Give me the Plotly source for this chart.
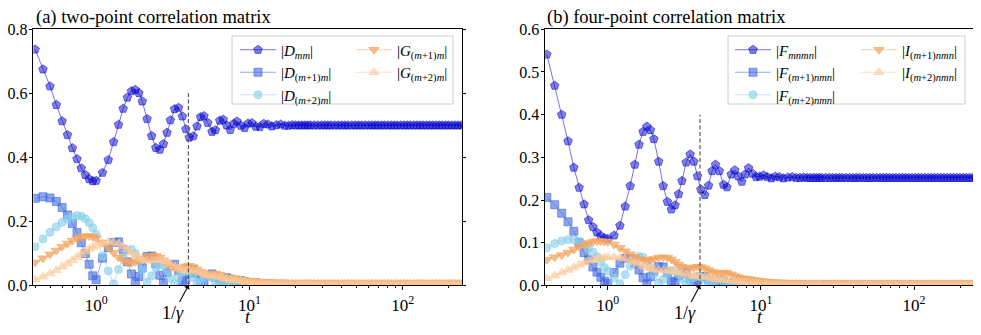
import numpy as np
import plotly.graph_objects as go

# the page body has an 8px margin, so the figure is drawn 8px in from the window corner
PAGE_OFF = 8
W, H = 981 - PAGE_OFF, 335 - PAGE_OFF
SERIF = "Liberation Serif"

# time grid (same grid in both panels)
t_early = [0.40, 0.45, 0.50, 0.55, 0.60, 0.65, 0.70, 0.75, 0.80, 0.85, 0.90, 0.95, 1.00,
           1.10, 1.20, 1.30, 1.40, 1.50, 1.60, 1.70, 1.80, 1.90, 2.00,
           2.15, 2.30, 2.45, 2.60, 2.75, 2.90, 3.05, 3.25, 3.45, 3.65, 3.85, 4.05,
           4.30, 4.55, 4.80, 5.05, 5.35, 5.70, 6.00, 6.40, 6.75, 7.10, 7.50, 7.90,
           8.30, 8.80, 9.30, 9.80, 10.4, 11.0, 11.7, 12.4, 13.2, 14.0, 15.0, 16.0,
           17.0, 18.0, 19.0, 20.0]
t_tail = [21, 22, 23, 24, 25, 26.5, 28, 29.5, 31, 32.5, 34, 36, 38, 40, 42, 44, 46.5, 49,
          51.5, 54, 57, 60, 63, 66, 69, 72.5, 76, 80, 84, 88, 92, 97, 102, 107, 112, 118,
          124, 130, 136, 143, 150, 157, 165, 173, 181, 190, 199, 209, 219, 230, 241, 252]

inv_gamma = 4.0

# (a) two-point correlation matrix
d_mm = [0.737, 0.675, 0.622, 0.564, 0.513, 0.470, 0.429, 0.395, 0.366, 0.345, 0.332, 0.326, 0.327,
        0.352, 0.392, 0.448, 0.502, 0.552, 0.587, 0.607, 0.611, 0.601, 0.575,
        0.520, 0.467, 0.430, 0.424, 0.442, 0.477, 0.516, 0.551, 0.555, 0.528, 0.488, 0.462,
        0.466, 0.497, 0.526, 0.529, 0.508, 0.480, 0.485, 0.515, 0.518, 0.500, 0.486, 0.505,
        0.512, 0.499, 0.492, 0.506, 0.507, 0.496, 0.495, 0.505, 0.503, 0.497, 0.501, 0.503,
        0.499, 0.499, 0.501, 0.500]
d_m1m = [0.272, 0.277, 0.273, 0.262, 0.243, 0.220, 0.193, 0.165, 0.133, 0.100, 0.066, 0.030, 0.018,
         0.085, 0.118, 0.134, 0.136, 0.112, 0.074, 0.036, 0.010, 0.028, 0.055,
         0.090, 0.092, 0.068, 0.032, 0.008, 0.040, 0.062, 0.066, 0.046, 0.014, 0.018, 0.038,
         0.050, 0.038, 0.015, 0.010, 0.030, 0.036, 0.026, 0.008, 0.015, 0.024, 0.020, 0.008,
         0.008, 0.015, 0.012, 0.005, 0.007, 0.009, 0.005, 0.004, 0.005, 0.004, 0.004, 0.003,
         0.004, 0.003, 0.003, 0.003]
d_m2m = [0.121, 0.145, 0.166, 0.183, 0.197, 0.207, 0.214, 0.218, 0.216, 0.208, 0.196, 0.180, 0.160,
         0.092, 0.045, 0.005, 0.050, 0.088, 0.110, 0.113, 0.100, 0.078, 0.048,
         0.010, 0.030, 0.055, 0.066, 0.062, 0.045, 0.022, 0.005, 0.025, 0.040, 0.045, 0.040,
         0.025, 0.008, 0.012, 0.025, 0.030, 0.024, 0.012, 0.004, 0.012, 0.017, 0.015, 0.009,
         0.004, 0.008, 0.010, 0.007, 0.004, 0.005, 0.006, 0.004, 0.003, 0.004, 0.003, 0.003,
         0.003, 0.003, 0.003, 0.003]
g_m1m = [0.072, 0.085, 0.097, 0.109, 0.121, 0.131, 0.140, 0.147, 0.151, 0.154, 0.154, 0.152, 0.147,
         0.134, 0.118, 0.102, 0.088, 0.078, 0.072, 0.071, 0.074, 0.079, 0.084,
         0.090, 0.093, 0.092, 0.087, 0.078, 0.068, 0.060, 0.054, 0.053, 0.056, 0.060, 0.061,
         0.057, 0.050, 0.043, 0.038, 0.036, 0.037, 0.037, 0.033, 0.028, 0.024, 0.023, 0.023,
         0.021, 0.018, 0.016, 0.015, 0.014, 0.013, 0.012, 0.011, 0.010, 0.010, 0.009, 0.009,
         0.008, 0.008, 0.008, 0.007]
g_m2m = [0.018, 0.027, 0.037, 0.047, 0.058, 0.068, 0.078, 0.088, 0.097, 0.106, 0.114, 0.120, 0.125,
         0.132, 0.136, 0.135, 0.130, 0.122, 0.112, 0.102, 0.093, 0.086, 0.081,
         0.077, 0.077, 0.078, 0.079, 0.078, 0.074, 0.068, 0.060, 0.053, 0.048, 0.046, 0.046,
         0.046, 0.044, 0.040, 0.035, 0.031, 0.029, 0.028, 0.026, 0.023, 0.020, 0.018, 0.017,
         0.016, 0.014, 0.012, 0.011, 0.010, 0.009, 0.009, 0.008, 0.008, 0.007, 0.007, 0.007,
         0.006, 0.006, 0.006, 0.006]
# long-time levels (t > 20)
d_mm_inf, d_m1m_inf, d_m2m_inf, g_m1m_inf, g_m2m_inf = 0.500, 0.003, 0.003, 0.007, 0.006

# (b) four-point correlation matrix
f_mnmn = [0.541, 0.468, 0.400, 0.338, 0.276, 0.229, 0.190, 0.153, 0.137, 0.124, 0.116, 0.111, 0.109,
          0.117, 0.140, 0.185, 0.233, 0.283, 0.330, 0.360, 0.372, 0.364, 0.343,
          0.290, 0.233, 0.196, 0.178, 0.188, 0.214, 0.245, 0.288, 0.307, 0.290, 0.256, 0.225,
          0.212, 0.234, 0.268, 0.283, 0.268, 0.236, 0.230, 0.260, 0.270, 0.256, 0.243, 0.260,
          0.275, 0.262, 0.254, 0.255, 0.258, 0.254, 0.251, 0.255, 0.254, 0.251, 0.253, 0.254,
          0.252, 0.252, 0.253, 0.252]
f_m1nmn = [0.206, 0.189, 0.169, 0.149, 0.127, 0.100, 0.077, 0.060, 0.043, 0.031, 0.019, 0.010, 0.005,
           0.030, 0.052, 0.063, 0.063, 0.052, 0.036, 0.018, 0.004, 0.020, 0.034,
           0.044, 0.043, 0.030, 0.010, 0.008, 0.022, 0.030, 0.028, 0.016, 0.004, 0.012, 0.020,
           0.021, 0.013, 0.004, 0.008, 0.013, 0.011, 0.005, 0.004, 0.008, 0.008, 0.005, 0.002,
           0.004, 0.005, 0.004, 0.002, 0.002, 0.003, 0.002, 0.002, 0.002, 0.002, 0.002, 0.002,
           0.002, 0.002, 0.002, 0.002]
f_m2nmn = [0.088, 0.098, 0.104, 0.107, 0.107, 0.104, 0.096, 0.087, 0.078, 0.067, 0.055, 0.042, 0.034,
           0.018, 0.004, 0.025, 0.045, 0.060, 0.068, 0.066, 0.056, 0.042, 0.026,
           0.006, 0.014, 0.028, 0.035, 0.034, 0.026, 0.016, 0.004, 0.010, 0.018, 0.022, 0.020,
           0.014, 0.005, 0.005, 0.010, 0.013, 0.010, 0.005, 0.002, 0.005, 0.007, 0.006, 0.003,
           0.002, 0.003, 0.004, 0.003, 0.002, 0.002, 0.002, 0.002, 0.002, 0.002, 0.002, 0.002,
           0.002, 0.002, 0.002, 0.002]
i_m1nmn = [0.060, 0.066, 0.071, 0.077, 0.084, 0.090, 0.095, 0.099, 0.102, 0.104, 0.104, 0.103, 0.102,
           0.096, 0.088, 0.080, 0.073, 0.067, 0.062, 0.060, 0.059, 0.060, 0.062,
           0.065, 0.066, 0.065, 0.061, 0.055, 0.049, 0.044, 0.041, 0.040, 0.042, 0.044, 0.043,
           0.040, 0.036, 0.032, 0.029, 0.028, 0.030, 0.029, 0.026, 0.022, 0.019, 0.017, 0.016,
           0.015, 0.013, 0.012, 0.011, 0.010, 0.009, 0.008, 0.008, 0.007, 0.007, 0.006, 0.006,
           0.005, 0.005, 0.005, 0.005]
i_m2nmn = [0.016, 0.023, 0.030, 0.036, 0.042, 0.048, 0.053, 0.057, 0.060, 0.063, 0.064, 0.065, 0.066,
           0.066, 0.065, 0.062, 0.058, 0.054, 0.050, 0.046, 0.043, 0.040, 0.038,
           0.036, 0.035, 0.035, 0.034, 0.033, 0.031, 0.029, 0.026, 0.024, 0.022, 0.021, 0.021,
           0.020, 0.019, 0.017, 0.015, 0.014, 0.013, 0.013, 0.012, 0.010, 0.009, 0.008, 0.008,
           0.007, 0.006, 0.006, 0.005, 0.005, 0.004, 0.004, 0.004, 0.004, 0.004, 0.004, 0.004,
           0.004, 0.003, 0.003, 0.003]
f_mnmn_inf, f_m1nmn_inf, f_m2nmn_inf, i_m1nmn_inf, i_m2nmn_inf = 0.252, 0.002, 0.002, 0.005, 0.003

y_ticks_a = [0.0, 0.2, 0.4, 0.6, 0.8]
y_ticks_b = [0.0, 0.1, 0.2, 0.3, 0.4, 0.5, 0.6]
x_major = [1, 10, 100]
x_major_text = ["10<sup>0</sup>", "10<sup>1</sup>", "10<sup>2</sup>"]
x_minor = [0.4, 0.5, 0.6, 0.7, 0.8, 0.9, 2, 3, 4, 5, 6, 7, 8, 9,
           20, 30, 40, 50, 60, 70, 80, 90, 200]
vline_top = [0.6, 0.4]

t_all = t_early + t_tail

# marker styles: (symbol, size, rgb, fill alpha)
styles = [
    ("pentagon", 9, (0, 0, 205), 0.5),
    ("square", 8, (65, 105, 225), 0.6),
    ("circle", 8, (135, 206, 235), 0.6),
    ("triangle-down", 9, (244, 164, 96), 0.7),
    ("triangle-up", 9, (253, 200, 150), 0.6),
]

def rgba(c, a):
    return "rgba(%d,%d,%d,%.2f)" % (c[0], c[1], c[2], a)

fig = go.Figure()

def add_series(vals, inf, name, k, xa, ya, leg):
    sym, size, c, a = styles[k]
    y = vals + [inf] * len(t_tail)
    fig.add_trace(go.Scatter(
        x=t_all, y=y, mode="lines+markers", name=name, xaxis=xa, yaxis=ya, legend=leg,
        line=dict(color=rgba(c, 0.55), width=1),
        marker=dict(symbol=sym, size=size, color=rgba(c, a), line=dict(color=rgba(c, a), width=1))))

def sub(s):
    return s.replace("m", "<i>m</i>").replace("n", "<i>n</i>")

add_series(d_mm, d_mm_inf, "|<i>D</i><sub>" + sub("mm") + "</sub>|", 0, "x", "y", "legend")
add_series(d_m1m, d_m1m_inf, "|<i>D</i><sub>" + sub("(m+1)m") + "</sub>|", 1, "x", "y", "legend")
add_series(d_m2m, d_m2m_inf, "|<i>D</i><sub>" + sub("(m+2)m") + "</sub>|", 2, "x", "y", "legend")
add_series(g_m1m, g_m1m_inf, "|<i>G</i><sub>" + sub("(m+1)m") + "</sub>|", 3, "x", "y", "legend2")
add_series(g_m2m, g_m2m_inf, "|<i>G</i><sub>" + sub("(m+2)m") + "</sub>|", 4, "x", "y", "legend2")

add_series(f_mnmn, f_mnmn_inf, "|<i>F</i><sub>" + sub("mnmn") + "</sub>|", 0, "x2", "y2", "legend3")
add_series(f_m1nmn, f_m1nmn_inf, "|<i>F</i><sub>" + sub("(m+1)nmn") + "</sub>|", 1, "x2", "y2", "legend3")
add_series(f_m2nmn, f_m2nmn_inf, "|<i>F</i><sub>" + sub("(m+2)nmn") + "</sub>|", 2, "x2", "y2", "legend3")
add_series(i_m1nmn, i_m1nmn_inf, "|<i>I</i><sub>" + sub("(m+1)nmn") + "</sub>|", 3, "x2", "y2", "legend4")
add_series(i_m2nmn, i_m2nmn_inf, "|<i>I</i><sub>" + sub("(m+2)nmn") + "</sub>|", 4, "x2", "y2", "legend4")

# dashed marker of 1/gamma
for xa, ya, top in [("x", "y", vline_top[0]), ("x2", "y2", vline_top[1])]:
    fig.add_trace(go.Scatter(x=[inv_gamma, inv_gamma], y=[0, top], mode="lines", xaxis=xa, yaxis=ya,
                             line=dict(color="#555555", width=1.2, dash="4px,2.5px"),
                             showlegend=False, hoverinfo="skip"))

# screen pixel -> paper fraction
def px_x(p):
    return (p - PAGE_OFF) / W

def px_y(p):
    return 1 - (p - PAGE_OFF) / H

xdom_a = [px_x(33.3), px_x(461.7)]
xdom_b = [px_x(545), px_x(973)]
ydom = [px_y(285.4), px_y(29.3)]

font_tick = dict(family=SERIF, size=16, color="black")
xcommon = dict(type="log", range=[-0.41, 2.385], tickvals=x_major, ticktext=x_major_text,
               ticks="outside", ticklen=4, tickwidth=1, tickcolor="black",
               minor=dict(tickvals=x_minor, ticks="outside", ticklen=2, tickwidth=0.8, tickcolor="black"),
               showline=True, linecolor="black", linewidth=1, mirror=True, showgrid=False,
               zeroline=False, tickfont=dict(family=SERIF, size=17, color="black"))
ycommon = dict(ticks="outside", ticklen=3.5, tickwidth=1, tickcolor="black", showline=True,
               linecolor="black", linewidth=1, mirror="ticks", showgrid=False, zeroline=False,
               tickfont=font_tick, tickformat=".1f", domain=ydom, ticklabelstandoff=-2)

leg_common = dict(bgcolor="rgba(0,0,0,0)", borderwidth=0, font=dict(family=SERIF, size=15, color="black"),
                  xanchor="left", yanchor="top", orientation="v", itemwidth=36)

fig.update_layout(
    width=W, height=H, margin=dict(l=0, r=0, t=0, b=0, autoexpand=False),
    paper_bgcolor="white", plot_bgcolor="white",
    xaxis=dict(domain=xdom_a, anchor="y", **xcommon),
    yaxis=dict(anchor="x", range=[0, 0.8], tickvals=y_ticks_a, **ycommon),
    xaxis2=dict(domain=xdom_b, anchor="y2", **xcommon),
    yaxis2=dict(anchor="x2", range=[0, 0.6], tickvals=y_ticks_b, **ycommon),
    legend=dict(x=px_x(235), y=px_y(33.5), **leg_common),
    legend2=dict(x=px_x(351), y=px_y(33.5), **leg_common),
    legend3=dict(x=px_x(730), y=px_y(33.5), **leg_common),
    legend4=dict(x=px_x(856), y=px_y(33.5), **leg_common),
)

# legend frames
for x0, x1 in [(232, 453), (728, 965)]:
    fig.add_shape(type="rect", xref="paper", yref="paper", x0=px_x(x0), x1=px_x(x1),
                  y0=px_y(104), y1=px_y(36), line=dict(color="#cccccc", width=1),
                  fillcolor="rgba(255,255,255,0.8)", layer="above")

title_font = dict(family=SERIF, size=18.5, color="black")
fig.add_annotation(text="(a) two-point correlation matrix", xref="paper", yref="paper",
                   x=px_x(34), y=px_y(17), xanchor="left", yanchor="middle", showarrow=False, font=title_font)
fig.add_annotation(text="(b) four-point correlation matrix", xref="paper", yref="paper",
                   x=px_x(545), y=px_y(17), xanchor="left", yanchor="middle", showarrow=False, font=title_font)

for xa, ya, xc in [("x", "y", 248), ("x2", "y2", 760)]:
    fig.add_annotation(text="1/<i>γ</i>", xref=xa, yref=ya, x=np.log10(inv_gamma), y=0,
                       ax=-15, ay=28, showarrow=True, arrowhead=1, arrowsize=1, arrowwidth=1.1,
                       arrowcolor="black", font=dict(family=SERIF, size=18, color="black"))
    fig.add_annotation(text="<i>t</i>", xref="paper", yref="paper", x=px_x(xc), y=px_y(317),
                       xanchor="center", yanchor="middle", showarrow=False,
                       font=dict(family=SERIF, size=18, color="black"))

fig.write_html("out.html")
